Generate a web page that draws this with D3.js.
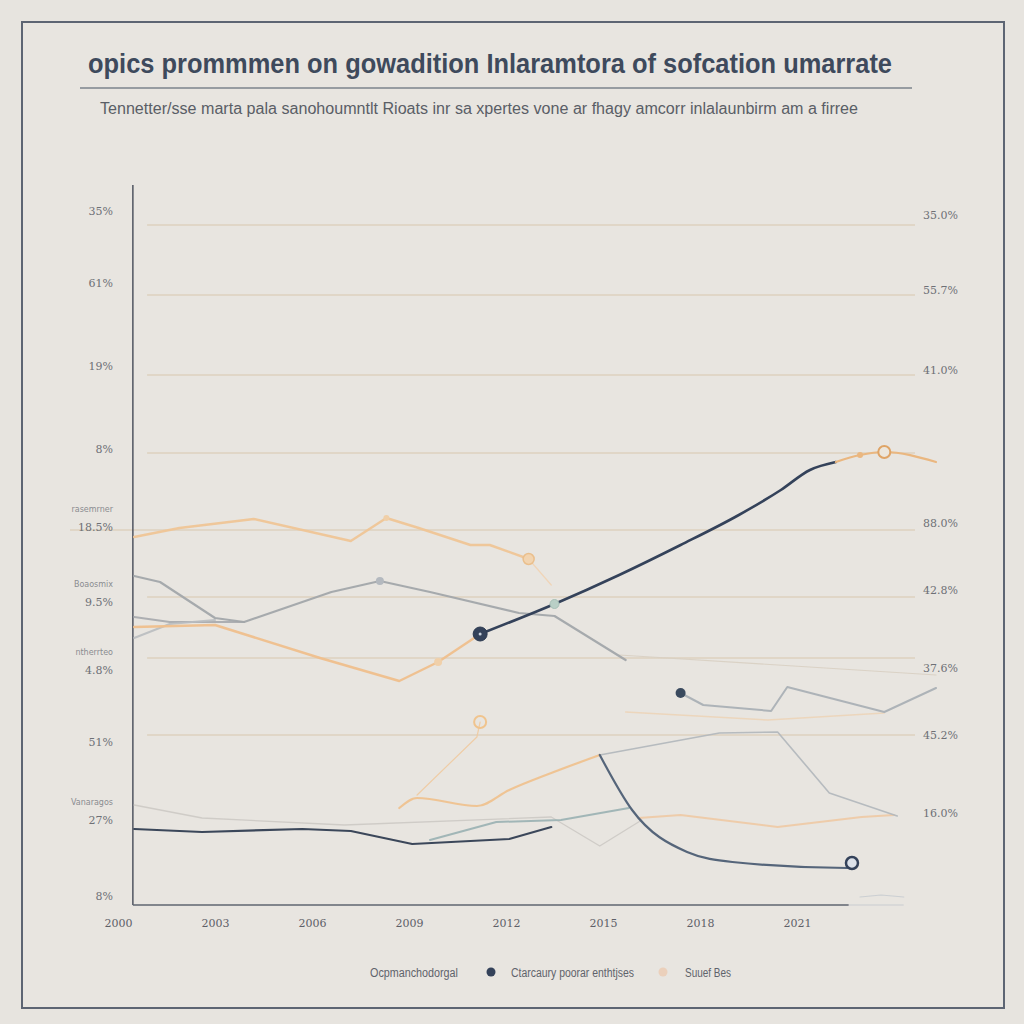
<!DOCTYPE html>
<html><head><meta charset="utf-8">
<script src="https://cdn.jsdelivr.net/npm/d3@7"></script>
<style>html,body{margin:0;padding:0;background:#e7e4df;}svg{display:block;}</style>
</head><body>
<svg id="c" width="1024" height="1024"></svg>
<script>
// ---- data (x = year, y = percent) ----
const xTickLabels = ["2000","2003","2006","2009","2012","2015","2018","2021"];
const xTickYears = [2000,2003,2006,2009,2012,2015,2018,2021];
const leftTickValues = [69.4,62.2,53.9,45.6,37.8,30.3,23.5,16.3,8.5,0.9];
const leftTickLabels = ["35%","61%","19%","8%","18.5%","9.5%","4.8%","51%","27%","8%"];
const leftSubLabels = [null,null,null,null,"rasemrner","Boaosmix","ntherrteo",null,"Vanaragos",null];
const rightTickValues = [69,61.5,53.5,38.2,31.5,23.7,17,9.2];
const rightTickLabels = ["35.0%","55.7%","41.0%","88.0%","42.8%","37.6%","45.2%","16.0%"];
const gridValues = [68,61,53,45.2,37.5,30.8,24.7,17];

const navyRise = [[2011.2,27.1],[2013.5,30.1],[2015.5,33.0],[2017.4,36.0],[2019.2,39.0],[2020.5,41.5],[2021.4,43.5],[2022.2,44.3]];
const orangeTail = [[2022.2,44.3],[2022.95,45.0],[2023.7,45.3],[2025.3,44.3]];
const navyBottom = [[2000.5,7.6],[2002.6,7.3],[2005.7,7.6],[2007.2,7.4],[2009.1,6.1],[2012.1,6.6],[2013.4,7.8]];
const tealLine = [[2009.65,6.5],[2011.7,8.3],[2013.7,8.5],[2015.8,9.7]];
const slateDrop = [[2014.9,15.0],[2015.9,9.5],[2017.6,5.3],[2019.0,4.3],[2022.55,3.7],[2022.7,4.2]];
const greyA = [[2000.5,32.9],[2001.3,32.3],[2003.0,28.7],[2003.9,28.3],[2006.6,31.3],[2008.1,32.4],[2009.65,31.3],[2012.4,29.2],[2013.5,28.9],[2015.7,24.5]];
const greyB = [[2000.5,26.7],[2001.6,28.1],[2003.0,28.5]];
const greyC = [[2000.5,28.8],[2001.6,28.3],[2003.9,28.3]];
const orangeUpper = [[2000.5,36.8],[2001.9,37.7],[2004.2,38.6],[2007.2,36.4],[2008.3,38.7],[2009.3,37.7],[2010.9,36.0],[2011.5,36.0],[2012.7,34.6]];
const orangeUpperFade = [[2012.7,34.6],[2013.4,32.0]];
const orangeLower = [[2000.5,27.8],[2003.0,28.0],[2006.25,24.7],[2008.7,22.4],[2009.9,24.3],[2011.2,27.1]];
const orangeBottom = [[2008.7,9.7],[2009.25,10.7],[2011.1,9.9],[2012.1,11.5],[2013.4,13.2],[2014.9,15.0]];
const greyRight = [[2014.9,15.0],[2018.6,17.2],[2020.4,17.3],[2022.0,11.2],[2024.1,8.9]];
const orangeThin = [[2009.25,11.0],[2011.1,16.8],[2011.2,18.3]];
const greyUpperRight = [[2017.4,21.2],[2018.1,20.0],[2020.2,19.4],[2020.7,21.8],[2023.7,19.3],[2025.3,21.7]];
const orangeFaintRight = [[2015.7,19.3],[2020.1,18.5],[2023.7,19.2]];
const orangeMidRight = [[2016.1,8.7],[2017.4,9.0],[2020.4,7.8],[2023.0,8.8],[2024.0,9.0]];
const faintBottom = [[2000.5,10.0],[2002.6,8.7],[2007.0,8.0],[2013.4,8.8],[2014.9,5.9],[2016.2,8.5]];
const faintAcross = [[2015.5,25.0],[2025.3,23.0]];
const faintSquiggle = [[2022.95,0.8],[2023.6,1.0],[2024.3,0.8]];

const legendItems = ["Ocpmanchodorgal","Ctarcaury poorar enthtjses","Suuef Bes"];

// ---- drawing ----
const svg = d3.select("#c");
const x = d3.scaleLinear().domain([2000,2021]).range([118,797]);
const y = d3.scaleLinear().domain([0,72]).range([905,185]);

// frame
svg.append("rect").attr("x",22).attr("y",22).attr("width",982).attr("height",986)
  .attr("fill","#e8e5e0").attr("stroke","#5d6573").attr("stroke-width",2);

// title
svg.append("text").attr("x",88).attr("y",73)
  .attr("font-family","Liberation Sans, Arial, sans-serif").attr("font-weight","bold")
  .attr("font-size",27).attr("fill","#3e4a5c")
  .attr("textLength",804).attr("lengthAdjust","spacingAndGlyphs")
  .text("opics prommmen on gowadition Inlaramtora of sofcation umarrate");
svg.append("line").attr("x1",80).attr("x2",912).attr("y1",88).attr("y2",88)
  .attr("stroke","#7d838c").attr("stroke-width",1.5);
svg.append("text").attr("x",100).attr("y",114)
  .attr("font-family","Liberation Sans Narrow, Liberation Sans, sans-serif")
  .attr("font-size",16).attr("fill","#5a5e66")
  .attr("textLength",758).attr("lengthAdjust","spacingAndGlyphs")
  .text("Tennetter/sse marta pala sanohoumntlt Rioats inr sa xpertes vone ar fhagy amcorr inlalaunbirm am a firree");

// gridlines
svg.append("g").selectAll("line").data(gridValues).join("line")
  .attr("x1",(d,i)=> i===4 ? 70 : x(2000.9)).attr("x2",x(2024.65))
  .attr("y1",d=>y(d)).attr("y2",d=>y(d))
  .attr("stroke","#d8c7ae").attr("stroke-width",1.2);

// left axis
const gl = svg.append("g").attr("transform",`translate(${x(2000.46)},0)`)
  .call(d3.axisLeft(y).tickValues(leftTickValues).tickFormat((d,i)=>leftTickLabels[i]).tickSize(0).tickPadding(20));
gl.select(".domain").attr("stroke","#4f5560").attr("stroke-width",1.5).attr("d",`M0,${y(72)}V${y(0)}`);
gl.selectAll("text").attr("font-family","DejaVu Serif, serif").attr("font-size",11).attr("fill","#6e7076");
svg.append("g").selectAll("text").data(leftSubLabels.map((s,i)=>({s,v:leftTickValues[i]})).filter(d=>d.s)).join("text")
  .attr("x",113).attr("y",d=>y(d.v)-15).attr("text-anchor","end")
  .attr("font-family","DejaVu Sans, sans-serif").attr("font-size",8).attr("fill","#8a8c90").text(d=>d.s);

// right labels
svg.append("g").selectAll("text").data(rightTickValues).join("text")
  .attr("x",958).attr("y",d=>y(d)+4).attr("text-anchor","end")
  .attr("font-family","DejaVu Serif, serif").attr("font-size",11).attr("fill","#6e7076")
  .text((d,i)=>rightTickLabels[i]);

// bottom axis
const gb = svg.append("g").attr("transform",`translate(0,${y(0)})`)
  .call(d3.axisBottom(x).tickValues(xTickYears).tickFormat((d,i)=>xTickLabels[i]).tickSize(0).tickPadding(14));
gb.select(".domain").attr("stroke","#5f6570").attr("stroke-width",1.5).attr("d",`M${x(2000.46)},0H${x(2022.6)}`);
gb.selectAll("text").attr("font-family","DejaVu Serif, serif").attr("font-size",11).attr("fill","#5e6068");
svg.append("line").attr("x1",x(2022.6)).attr("x2",x(2024.3)).attr("y1",y(0)).attr("y2",y(0))
  .attr("stroke","#c9ccd0").attr("stroke-width",1);

// lines
const line = d3.line().x(d=>x(d[0])).y(d=>y(d[1])).curve(d3.curveMonotoneX);
const lineL = d3.line().x(d=>x(d[0])).y(d=>y(d[1]));
function draw(data,color,w,op,gen){
  svg.append("path").datum(data).attr("d",(gen||lineL)(data)).attr("fill","none")
    .attr("stroke",color).attr("stroke-width",w).attr("opacity",op)
    .attr("stroke-linejoin","round").attr("stroke-linecap","round");
}
draw(faintAcross,"#d8cfc2",1.2,0.9);
draw(faintBottom,"#ccc9c4",1.3,0.9);
draw(faintSquiggle,"#c8ccd0",1.2,0.9);
draw(orangeFaintRight,"#ecd4b8",1.5,0.9);
draw(orangeMidRight,"#eec9a4",2,0.9);
draw(greyUpperRight,"#aab0b5",2,0.95);
draw(greyRight,"#b3b8bd",1.6,0.95);
draw(orangeThin,"#f0caa0",1.2,0.9);
draw(orangeBottom,"#efc28f",2.2,0.95,line);
draw(greyC,"#a6a9ad",2,0.9);
draw(greyB,"#b9bcc0",2,0.9);
draw(greyA,"#a2a6aa",2.2,0.95);
draw(orangeUpper,"#efc596",2.4,0.95);
draw(orangeUpperFade,"#f1d3b2",1.2,0.9);
draw(orangeLower,"#efbf8c",2.4,0.95);
draw(tealLine,"#9db3b4",2,0.95);
draw(navyBottom,"#3b475a",2.2,1);
draw(slateDrop,"#55657a",2.2,1,line);
draw(navyRise,"#34425a",2.6,1,line);
draw(orangeTail,"#eab780",2.2,1,line);

// markers
function dot(p,r,fill,stroke,sw){
  svg.append("circle").attr("cx",x(p[0])).attr("cy",y(p[1])).attr("r",r)
    .attr("fill",fill).attr("stroke",stroke).attr("stroke-width",sw);
}
dot(navyRise[0],7,"#34425a","#2c3a50",1);
dot(navyRise[0],1.5,"#c9d2de","none",0);
dot(navyRise[1],4.5,"#b9cfc6","#a7c0b7",1);
dot(orangeTail[2],6,"#ece6dc","#dfa466",2);
dot(orangeUpper[orangeUpper.length-1],5.5,"#f2d4b0","#eabf8c",1.5);
dot(orangeThin[2],6,"none","#f0c48e",2);
dot(slateDrop[slateDrop.length-1],6,"#dde2ea","#34425a",2.5);
dot(greyUpperRight[0],5,"#3a4a5e","none",0);
dot(orangeLower[4],4,"#f0d0aa","none",0);
dot(orangeUpper[4],3,"#f0cfa8","none",0);
dot(greyA[5],4,"#b4b9bf","none",0);
dot(orangeTail[1],3,"#eab780","none",0);

// legend
const lg = svg.append("g").attr("font-family","Liberation Sans, sans-serif").attr("font-size",12).attr("fill","#5f636b");
lg.append("text").attr("x",370).attr("y",977).attr("textLength",88).attr("lengthAdjust","spacingAndGlyphs").text(legendItems[0]);
lg.append("circle").attr("cx",491).attr("cy",972).attr("r",4.5).attr("fill","#34425a");
lg.append("text").attr("x",511).attr("y",977).attr("textLength",123).attr("lengthAdjust","spacingAndGlyphs").text(legendItems[1]);
lg.append("circle").attr("cx",663).attr("cy",972).attr("r",4.5).attr("fill","#ebd0bb");
lg.append("text").attr("x",685).attr("y",977).attr("textLength",46).attr("lengthAdjust","spacingAndGlyphs").text(legendItems[2]);
</script>
</body></html>
